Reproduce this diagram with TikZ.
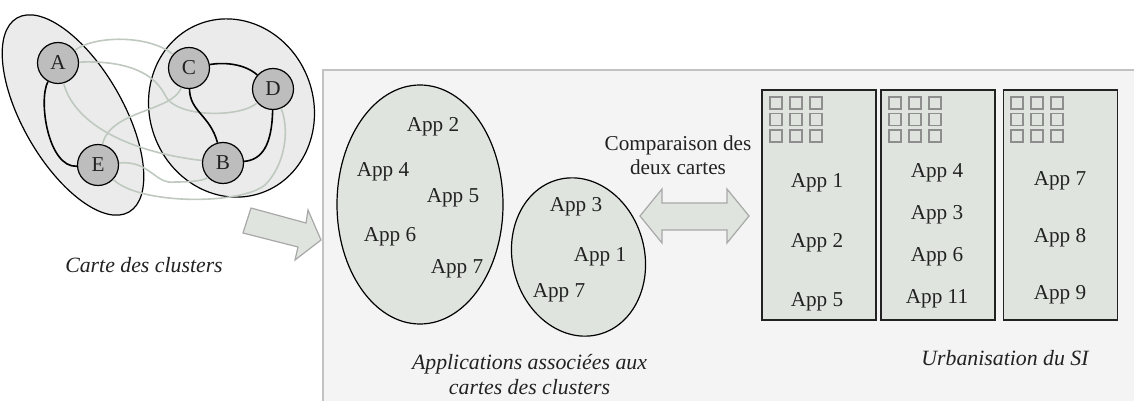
\documentclass[tikz,border=0pt]{standalone}
\usepackage{fontspec}
\setmainfont{Liberation Serif}
\usepackage{xcolor}
\usepackage{tikz}
\usetikzlibrary{shapes.geometric}
\definecolor{ink}{HTML}{222222}
\definecolor{clusterbg}{HTML}{EBEBEB}
\definecolor{nodegray}{HTML}{BDBDBD}
\definecolor{linkgray}{HTML}{BFC9BF}
\definecolor{panel}{HTML}{F4F4F4}
\definecolor{panelline}{HTML}{C2C2C2}
\definecolor{sage}{HTML}{DFE4DF}
\definecolor{arrowline}{HTML}{A8A8A8}
\definecolor{iconline}{HTML}{8E8E8E}

\begin{document}
\begin{tikzpicture}[x=0.5pt,y=-0.5pt,font=\fontsize{10.6}{12.5}\selectfont,text=ink,
  vertex/.style={circle,draw=black,line width=0.6pt,fill=nodegray,inner sep=0pt,minimum size=20.5pt},
  strong/.style={line width=0.8pt,color=black},
  weak/.style={line width=0.8pt,color=linkgray},
  group/.style={ellipse,draw=black,line width=0.6pt,inner sep=0pt},
  city/.style={draw=ink,line width=0.7pt,fill=sage,minimum width=57pt,minimum height=115pt,inner sep=0pt},
  caption/.style={font=\fontsize{10.9}{12.5}\selectfont\itshape,align=center}]
\useasboundingbox (0,0) rectangle (1134,401);

% right panel
\draw[draw=panelline,fill=panel,line width=0.8pt] (323,70) rectangle (1150,420);

% carte des clusters
\node[group,fill=clusterbg,minimum width=50pt,minimum height=112pt,rotate=30] (left) at (73,115) {};
\node[group,fill=clusterbg,minimum width=82pt,minimum height=90pt,rotate=20] (right) at (231.5,108) {};
\node[vertex] (A) at (58,63) {A};
\node[vertex] (C) at (189,68) {C};
\node[vertex] (D) at (273,89) {D};
\node[vertex] (E) at (98,165) {E};
\node[vertex] (B) at (223,163) {B};
\draw[weak] (A) .. controls (95,35) and (150,35) .. (C);
\draw[weak] (A) .. controls (130,60) and (155,75) .. (165,95) .. controls (175,118) and (240,118) .. (D);
\draw[weak] (A) .. controls (75,125) and (130,152) .. (B);
\draw[weak] (C) .. controls (172,112) and (110,110) .. (E);
\draw[weak] (E) .. controls (150,160) and (155,185) .. (175,182) .. controls (195,182) and (205,180) .. (B);
\draw[weak] (E) .. controls (140,205) and (240,205) .. (265,185) .. controls (285,165) and (290,130) .. (D);
\draw[strong] (A) .. controls (38,100) and (48,168) .. (E);
\draw[strong] (C) .. controls (225,62) and (245,64) .. (D);
\draw[strong] (C) .. controls (190,112) and (210,115) .. (B);
\draw[strong] (D) .. controls (272,145) and (262,160) .. (B);
\node[caption] (cartecap) at (144,265) {Carte des clusters};

% fleche vers le panneau
\draw[fill=sage,draw=arrowline,line width=0.6pt] (251,208) -- (306,223) -- (308,210) -- (321,240) -- (295,260) -- (298,247) -- (243,233) -- cycle;

% applications par cluster
\node[group,fill=sage,minimum width=83pt,minimum height=119.5pt] (bigset) at (420,204.5) {};
\node[group,fill=sage,minimum width=66pt,minimum height=80pt,rotate=15] (smallset) at (578.5,257) {};
\node (b2) at (433,127) {App 2};
\node (b4) at (383,172) {App 4};
\node (b5) at (453,198) {App 5};
\node (b6) at (390,237) {App 6};
\node (b7) at (457,269) {App 7};
\node (s3) at (576,207) {App 3};
\node (s1) at (600,257) {App 1};
\node (s7) at (559,293) {App 7};
\node[caption] (appcap) at (529.5,375) {Applications associées aux\\cartes des clusters};

% comparaison
\node[align=center,font=\fontsize{10.6}{12}\selectfont] (compare) at (678,155) {Comparaison des\\deux cartes};
\draw[fill=sage,draw=arrowline,line width=0.6pt] (640,216) -- (662,189) -- (662,203) -- (727,203) -- (727,189) -- (749,216) -- (727,243) -- (727,230) -- (662,230) -- (662,243) -- cycle;

% urbanisation
\node[city] (zone1) at (819,205) {};
\node[city] (zone2) at (938,205) {};
\node[city] (zone3) at (1060.5,205) {};
\foreach \cx in {770,889,1011}
  \foreach \i in {0,1,2}
    \foreach \j in {0,1,2}
      \draw[iconline,line width=0.7pt] (\cx+20*\i,97+16.5*\j) rectangle ++(12,12);
\node (u1) at (817,183) {App 1};
\node (u2) at (817,243) {App 2};
\node (u5) at (817,302) {App 5};
\node (u4) at (937,173) {App 4};
\node (u3) at (937,215) {App 3};
\node (u6) at (937,257) {App 6};
\node (u11) at (937,299) {App 11};
\node (u7) at (1060,181) {App 7};
\node (u8) at (1060,238) {App 8};
\node (u9) at (1060,295) {App 9};
\node[caption] (urbacap) at (1005,358) {Urbanisation du SI};
\end{tikzpicture}
\end{document}
